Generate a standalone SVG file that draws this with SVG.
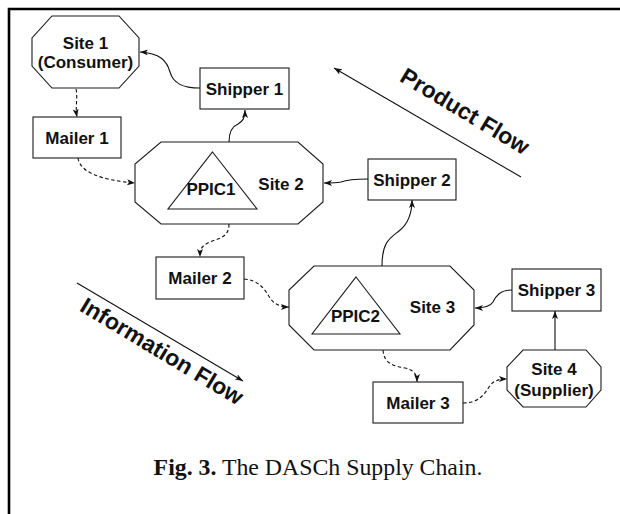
<svg xmlns="http://www.w3.org/2000/svg" width="620" height="514" viewBox="0 0 620 514">
  <style>
    .shape { fill: #fff; stroke: #1a1a1a; stroke-width: 1.1; }
    .tri { fill: none; stroke: #1a1a1a; stroke-width: 1.1; }
    .lbl { font-family: "Liberation Sans", Arial, sans-serif; font-weight: bold; font-size: 17px; fill: #111; text-anchor: middle; }
    .flow { font-family: "Liberation Sans", Arial, sans-serif; font-weight: bold; font-size: 23px; fill: #111; text-anchor: middle; }
    .solid { fill: none; stroke: #111; stroke-width: 1.1; marker-end: url(#arrow); }
    .dash { fill: none; stroke: #111; stroke-width: 1.1; stroke-dasharray: 3.5 2.5; marker-end: url(#arrow); }
    .caption { font-family: "Liberation Serif", "Times New Roman", serif; font-size: 23.8px; fill: #111; text-anchor: middle; }
  </style>
  <defs>
    <marker id="arrow" viewBox="0 0 8 6" refX="8" refY="3" markerWidth="8" markerHeight="6" markerUnits="userSpaceOnUse" orient="auto">
      <path d="M0,0 L8,3 L0,6 L2,3 Z" fill="#111"/>
    </marker>
  </defs>

  <rect width="620" height="514" fill="#fff"/>

  <!-- frame: top and left rules -->
  <path d="M9,514 L9,9 L620,9" fill="none" stroke="#000" stroke-width="2.6"/>

  <!-- sites -->
  <g id="site1">
    <polygon class="shape" points="52,16 119,16 139,38 139,66 119,88 52,88 32,66 32,38"/>
    <text class="lbl" x="85.5" y="49">Site 1</text>
    <text class="lbl" x="85.5" y="68">(Consumer)</text>
  </g>
  <g id="site2">
    <polygon class="shape" points="161,142 298,142 323,164 323,202 298,224 161,224 135,202 135,164"/>
    <polygon class="tri" points="212.5,152 257,209 168,209"/>
    <text class="lbl" x="211" y="195">PPIC1</text>
    <text class="lbl" x="281" y="190">Site 2</text>
  </g>
  <g id="site3">
    <polygon class="shape" points="314,266 450,266 474,290 474,325 450,350 314,350 289,325 289,290"/>
    <polygon class="tri" points="356,277 400,334 312,334"/>
    <text class="lbl" x="355.5" y="322">PPIC2</text>
    <text class="lbl" x="432.5" y="313">Site 3</text>
  </g>
  <g id="site4">
    <polygon class="shape" points="523,350 586,350 601,367 601,390 586,407 523,407 507,390 507,367"/>
    <text class="lbl" x="554" y="375">Site 4</text>
    <text class="lbl" x="554" y="396">(Supplier)</text>
  </g>

  <!-- shippers -->
  <g id="shipper1">
    <rect class="shape" x="200" y="68" width="89" height="41"/>
    <text class="lbl" x="244.5" y="95">Shipper 1</text>
  </g>
  <g id="shipper2">
    <rect class="shape" x="368" y="159" width="88" height="41"/>
    <text class="lbl" x="412" y="185.5">Shipper 2</text>
  </g>
  <g id="shipper3">
    <rect class="shape" x="512" y="269" width="89" height="42"/>
    <text class="lbl" x="556.5" y="296">Shipper 3</text>
  </g>

  <!-- mailers -->
  <g id="mailer1">
    <rect class="shape" x="33" y="117" width="88" height="41"/>
    <text class="lbl" x="77" y="143.5">Mailer 1</text>
  </g>
  <g id="mailer2">
    <rect class="shape" x="156" y="257" width="88" height="42"/>
    <text class="lbl" x="200" y="284">Mailer 2</text>
  </g>
  <g id="mailer3">
    <rect class="shape" x="373" y="382" width="90" height="41"/>
    <text class="lbl" x="418" y="409">Mailer 3</text>
  </g>

  <!-- connectors: solid = goods, dashed = messages -->
  <g id="connectors">
    <path class="solid" d="M200,88 C182,88 173,83 170,72 C167,61 160,53 140,52"/>
    <path class="solid" d="M229,142 C229,130 233,126 238,124 C243,121 245,118 245,110"/>
    <path class="dash" d="M76,89 C78,98 75,106 77,117"/>
    <path class="dash" d="M78,158 C80,172 100,180 135,183"/>
    <path class="dash" d="M229,224 C229,240 215,238 206,244 C201,247 200,250 200,257"/>
    <path class="solid" d="M368,179 C355,179 346,180 341,182 C336,183 331,183 324,183"/>
    <path class="solid" d="M382,266 C382,242 390,238 399,231 C408,224 412,215 412,200"/>
    <path class="dash" d="M244,279 C258,280 264,288 270,298 C274,304 280,307 289,307"/>
    <path class="solid" d="M512,290 C500,290 496,296 493,302 C490,307 484,308 475,308"/>
    <path class="solid" d="M555,350 L555,311"/>
    <path class="dash" d="M383,350 C384,364 394,366 405,368 C414,370 417,374 417,382"/>
    <path class="dash" d="M463,403 C478,403 484,395 489,387 C493,381 498,379 507,379"/>
    <path class="solid" d="M521,177 L334,68"/>
    <path class="solid" d="M77,283 L243,381"/>
  </g>

  <!-- flow direction labels -->
  <text class="flow" transform="translate(461,118) rotate(31)">Product Flow</text>
  <text class="flow" transform="translate(158,358) rotate(31)">Information Flow</text>

  <text class="caption" x="318" y="475"><tspan font-weight="bold">Fig. 3.</tspan> The DASCh Supply Chain.</text>
</svg>
